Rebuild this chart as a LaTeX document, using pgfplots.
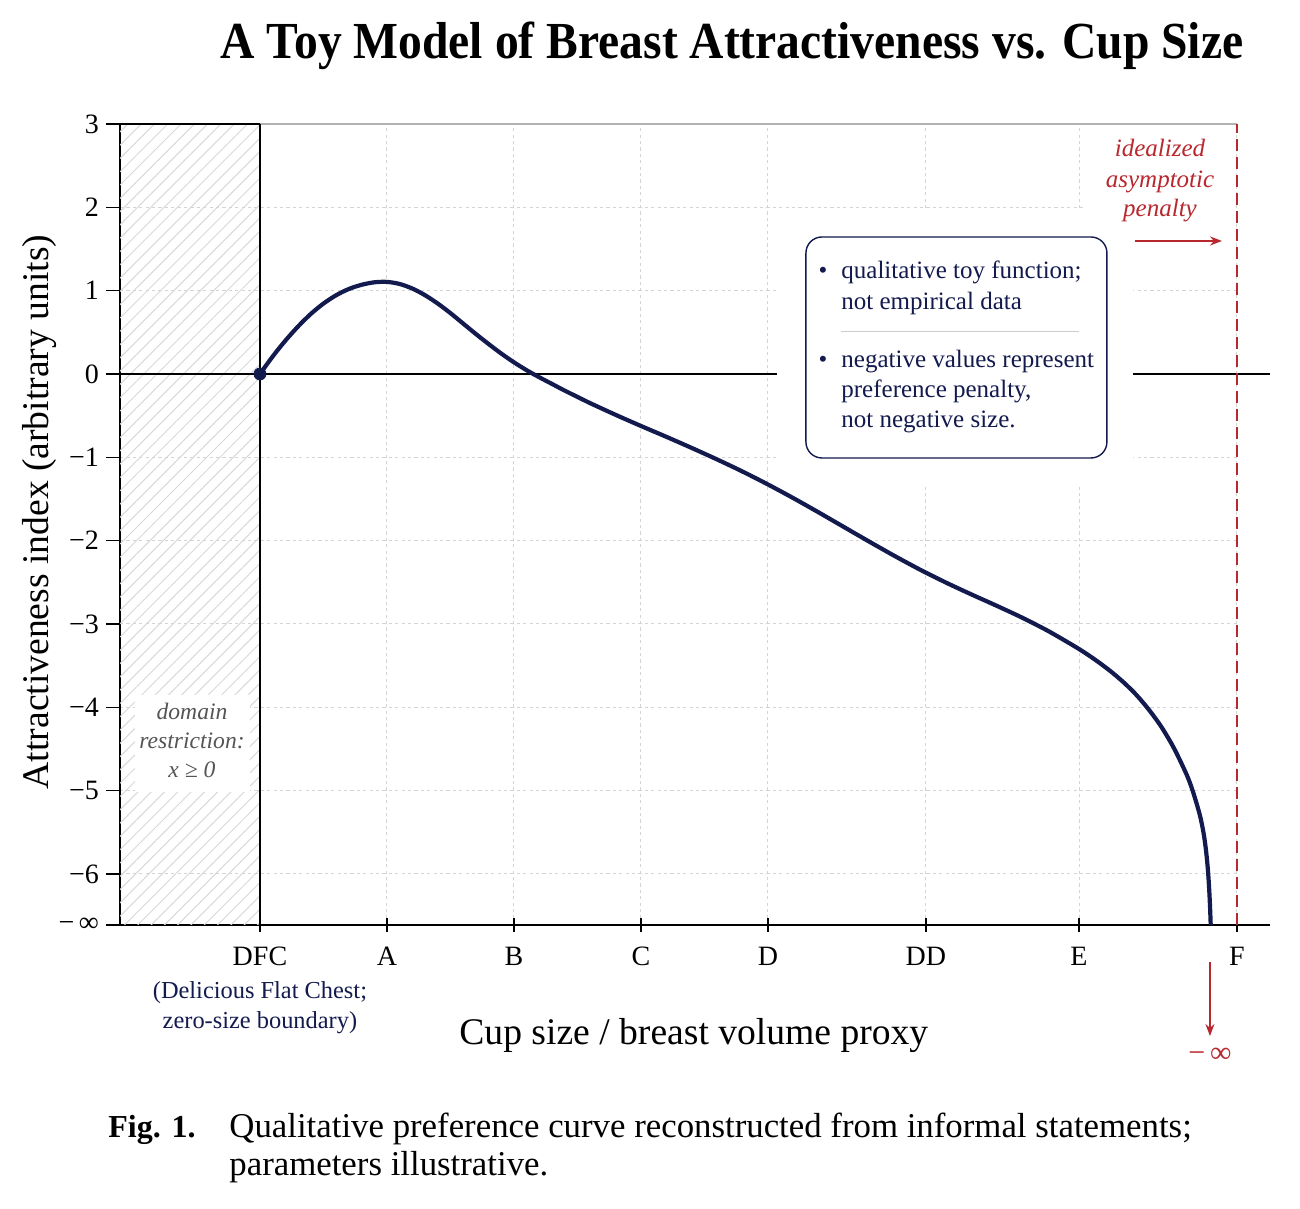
\documentclass[border=0pt]{standalone}
\usepackage{fontspec}
\setmainfont{Liberation Serif}
\usepackage{graphicx}
\usepackage{pgfplots}
\usepackage{pgfplotstable}
\pgfplotsset{compat=1.18}
\usetikzlibrary{patterns.meta,arrows.meta}
\definecolor{navy}{HTML}{121A4E}
\definecolor{redc}{HTML}{B8282E}
\definecolor{gridc}{HTML}{D4D4D4}
\definecolor{hatchc}{HTML}{D8D8D8}
\definecolor{graytext}{HTML}{555555}
\newcommand\boxfont{\fontsize{12.5}{15}\selectfont}

\pgfplotstableread{
x y
0 0
0.1 0.21
0.2 0.40
0.3 0.57
0.4 0.72
0.5 0.845
0.6 0.945
0.7 1.02
0.8 1.07
0.9 1.10
1.0 1.105
1.1 1.08
1.2 1.025
1.3 0.945
1.4 0.845
1.5 0.73
1.6 0.605
1.7 0.48
1.8 0.36
1.9 0.245
2.0 0.14
2.1 0.045
2.2 -0.04
2.3 -0.12
2.4 -0.20
2.5 -0.275
2.6 -0.35
2.8 -0.49
3.0 -0.624
3.2 -0.754
3.4 -0.888
3.6 -1.026
3.8 -1.171
4.0 -1.326
4.2 -1.49
4.4 -1.662
4.6 -1.838
4.8 -2.014
5.0 -2.186
5.2 -2.35
5.4 -2.502
5.6 -2.644
5.8 -2.781
6.0 -2.923
6.2 -3.079
6.4 -3.255
6.5 -3.35
6.6 -3.455
6.7 -3.57
6.8 -3.70
6.9 -3.85
7.0 -4.03
7.1 -4.24
7.2 -4.50
7.3 -4.82
7.35 -5.03
7.4 -5.29
7.43 -5.51
7.45 -5.73
7.465 -5.97
7.475 -6.21
7.482 -6.44
7.486 -6.612
}\curvedata

\begin{document}
\begin{tikzpicture}[x=1pt,y=1pt]
\path[use as bounding box] (0,0) rectangle (650,604.5);
\begin{axis}[
  at={(60pt,142pt)}, anchor=south west,
  scale only axis, width=575pt, height=400.5pt,
  xmin=-1.102, xmax=7.953, ymin=-6.612, ymax=3,
  axis x line*=bottom, axis y line*=left,
  axis line style={black, line width=0.8pt},
  xtick={0,1,2,3,4,5.244,6.449,7.693},
  xticklabels={DFC,A,B,C,D,DD,E,F},
  ytick={-6.612,-6,-5,-4,-3,-2,-1,0,1,2},
  yticklabels={−\,∞,−6,−5,−4,−3,−2,−1,0,1,2},
  extra y ticks={3}, extra y tick labels={3},
  extra y tick style={grid=none},
  xtick align=center, ytick align=outside,
  major tick length=7pt,
  tick style={black, line width=0.6pt},
  grid=major,
  major grid style={gridc, line width=0.5pt, dash pattern=on 1.6pt off 1.6pt},
  ticklabel style={font=\fontsize{14}{16}\selectfont},
  xticklabel style={yshift=-4pt},
  /pgf/number format/assume math mode=true,
  clip mode=individual,
  xlabel={Cup size / breast volume proxy},
  xlabel style={at={(axis description cs:0.499,-0.1486)}, anchor=base, font=\fontsize{18.8}{22}\selectfont},
  ylabel={Attractiveness index (arbitrary units)},
  ylabel style={at={(axis description cs:-0.0626,0.5156)}, anchor=base, font=\fontsize{18.8}{22}\selectfont},
]
% no grid beyond the asymptote
\fill[white] (7.70,-6.55) rectangle (7.953,3.05);
% hatched domain restriction
\path[pattern={Lines[angle=45,distance=4.7pt,line width=0.5pt]}, pattern color=hatchc] (-1.102,-6.612) rectangle (0,3);
\draw[black, line width=0.8pt] (-1.102,3) -- (0,3);
% zero line
\draw[black, line width=0.7pt] (-1.102,0) -- (7.953,0);
% white patches behind annotations
\fill[white] (4.071,-1.332) rectangle (6.874,1.968);
\fill[white] (6.48,1.344) rectangle (7.685,2.985);
\fill[white] (-0.984,-5.016) rectangle (-0.079,-3.852);
% top border, DFC boundary, asymptote
\draw[gray!60, line width=0.6pt] (0,3) -- (7.693,3);
\draw[black, line width=0.9pt] (0,-6.612) -- (0,3);
\draw[redc, line width=0.9pt, dash pattern=on 6pt off 3pt] (7.693,-6.612) -- (7.693,3);
% curve
\addplot[navy, line width=2.1pt, smooth] table {\curvedata};
\addplot[only marks, mark=*, mark size=3pt, navy] coordinates {(0,0)};
% annotation box
\draw[navy, line width=0.7pt, rounded corners=8pt, fill=white] (4.299,-1.008) rectangle (6.669,1.644);
\node[anchor=base, text=navy, font=\boxfont] at (4.433,1.14) {\textbullet};
\node[anchor=base west, inner sep=0pt, text=navy, font=\boxfont] at (4.575,1.14) {qualitative toy function;};
\node[anchor=base west, inner sep=0pt, text=navy, font=\boxfont] at (4.575,0.768) {not empirical data};
\draw[gray!40, line width=0.6pt] (4.575,0.51) -- (6.449,0.51);
\node[anchor=base, text=navy, font=\boxfont] at (4.433,0.072) {\textbullet};
\node[anchor=base west, inner sep=0pt, text=navy, font=\boxfont] at (4.575,0.072) {negative values represent};
\node[anchor=base west, inner sep=0pt, text=navy, font=\boxfont] at (4.575,-0.288) {preference penalty,};
\node[anchor=base west, inner sep=0pt, text=navy, font=\boxfont] at (4.575,-0.648) {not negative size.};
% red asymptote label
\node[anchor=base, text=redc, font=\fontsize{12.5}{15}\selectfont\itshape] at (7.087,2.604) {idealized};
\node[anchor=base, text=redc, font=\fontsize{12.5}{15}\selectfont\itshape] at (7.087,2.232) {asymptotic};
\node[anchor=base, text=redc, font=\fontsize{12.5}{15}\selectfont\itshape] at (7.087,1.884) {penalty};
\draw[redc, line width=0.8pt, -{Stealth[length=6pt,width=4.5pt]}] (6.89,1.596) -- (7.575,1.596);
% domain label
\node[anchor=base, text=graytext, font=\fontsize{11.8}{14}\selectfont\itshape] at (-0.535,-4.152) {domain};
\node[anchor=base, text=graytext, font=\fontsize{11.8}{14}\selectfont\itshape] at (-0.535,-4.5) {restriction:};
\node[anchor=base, text=graytext, font=\fontsize{11.8}{14}\selectfont\itshape] at (-0.535,-4.848) {x ≥ 0};
% DFC sublabel
\node[anchor=base, text=navy, font=\fontsize{12.2}{14}\selectfont] at (0,-7.5) {(Delicious Flat Chest;};
\node[anchor=base, text=navy, font=\fontsize{12.2}{14}\selectfont] at (0,-7.86) {zero-size boundary)};
% minus infinity arrow
\draw[redc, line width=0.8pt, -{Stealth[length=6pt,width=4.5pt]}] (7.48,-7.056) -- (7.48,-7.944);
\node[anchor=base, text=redc, font=\fontsize{15}{17}\selectfont] at (7.48,-8.256) {−\,∞};
\end{axis}
% title
\node[anchor=base] at (366pt,575pt) {\scalebox{0.915}[1]{\fontsize{26}{30}\selectfont\bfseries A Toy Model of Breast Attractiveness vs. Cup Size}};
% caption
\node[anchor=base west, inner sep=0pt] at (54pt,35.5pt) {\fontsize{16}{20}\selectfont\bfseries Fig. 1.};
\node[anchor=base west, inner sep=0pt] at (114.5pt,35.5pt) {\fontsize{17.4}{20}\selectfont Qualitative preference curve reconstructed from informal statements;};
\node[anchor=base west, inner sep=0pt] at (114.5pt,16.5pt) {\fontsize{17.4}{20}\selectfont parameters illustrative.};
\end{tikzpicture}
\end{document}
